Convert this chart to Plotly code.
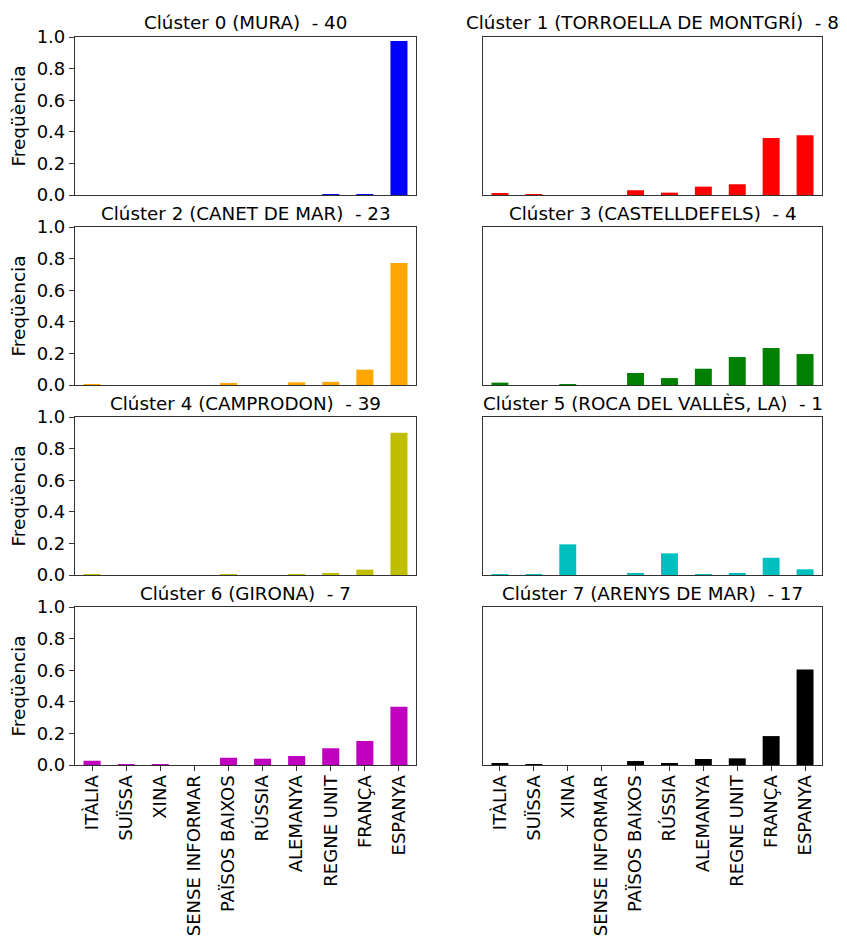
import plotly.graph_objects as go

categories = ["ITÀLIA", "SUÏSSA", "XINA", "SENSE INFORMAR", "PAÏSOS BAIXOS",
              "RÚSSIA", "ALEMANYA", "REGNE UNIT", "FRANÇA", "ESPANYA"]

titles = [
    "Clúster 0 (MURA)\u00a0\u00a0- 40",
    "Clúster 1 (TORROELLA DE MONTGRÍ)\u00a0\u00a0- 8",
    "Clúster 2 (CANET DE MAR)\u00a0\u00a0- 23",
    "Clúster 3 (CASTELLDEFELS)\u00a0\u00a0- 4",
    "Clúster 4 (CAMPRODON)\u00a0\u00a0- 39",
    "Clúster 5 (ROCA DEL VALLÈS, LA)\u00a0\u00a0- 1",
    "Clúster 6 (GIRONA)\u00a0\u00a0- 7",
    "Clúster 7 (ARENYS DE MAR)\u00a0\u00a0- 17",
]

cluster0 = [0.0, 0.0, 0.0, 0.0, 0.0, 0.0, 0.0, 0.003, 0.005, 0.975]
cluster1 = [0.010, 0.004, 0.0, 0.0, 0.030, 0.015, 0.053, 0.068, 0.360, 0.378]
cluster2 = [0.004, 0.0, 0.0, 0.0, 0.013, 0.0, 0.017, 0.020, 0.097, 0.772]
cluster3 = [0.015, 0.0, 0.004, 0.0, 0.076, 0.044, 0.103, 0.177, 0.234, 0.196]
cluster4 = [0.002, 0.0, 0.0, 0.0, 0.005, 0.0, 0.006, 0.010, 0.034, 0.900]
cluster5 = [0.002, 0.002, 0.194, 0.0, 0.010, 0.137, 0.005, 0.010, 0.109, 0.036]
cluster6 = [0.027, 0.004, 0.004, 0.0, 0.046, 0.040, 0.057, 0.106, 0.152, 0.368]
cluster7 = [0.008, 0.006, 0.0, 0.0, 0.025, 0.008, 0.038, 0.042, 0.183, 0.604]

series = [cluster0, cluster1, cluster2, cluster3, cluster4, cluster5, cluster6, cluster7]
colors = ["#0000ff", "#ff0000", "#ffa500", "#008000", "#bfbf00", "#00bfbf", "#bf00bf", "#000000"]

# page has an 8px body margin; figure fills the rest of the window
OFF = 8
W, H = 847 - OFF, 943 - OFF
xdom_px = [(75 - OFF, 416 - OFF), (483 - OFF, 822 - OFF)]
ydom_px = [(37 - OFF, 195 - OFF), (227 - OFF, 385 - OFF), (417 - OFF, 575 - OFF), (607 - OFF, 765 - OFF)]

FONT = "DejaVu Sans"
fig = go.Figure()
layout = dict(
    width=W, height=H,
    margin=dict(l=0, r=0, t=0, b=0, autoexpand=False),
    paper_bgcolor="white", plot_bgcolor="white",
    showlegend=False,
    font=dict(family=FONT, size=18, color="black"),
    bargap=0.5,
)
annotations = []
for i, vals in enumerate(series):
    row, col = divmod(i, 2)
    n = i + 1
    xa = "x" if n == 1 else f"x{n}"
    ya = "y" if n == 1 else f"y{n}"
    fig.add_trace(go.Bar(x=list(range(len(categories))), y=vals, marker_color=colors[i],
                         marker_line_width=0, width=0.5, xaxis=xa, yaxis=ya))
    x0, x1 = xdom_px[col]
    yt, yb = ydom_px[row]
    bottom = row == 3
    left = col == 0
    layout[f"xaxis{n}"] = dict(
        domain=[x0 / W, x1 / W], anchor=ya, automargin=False,
        range=[-0.5, 9.5], tickmode="array",
        tickvals=list(range(len(categories))), ticktext=categories,
        showticklabels=bottom, ticks="outside" if bottom else "",
        ticklen=5, tickcolor="#333", tickangle=-90,
        showline=True, mirror=True, linecolor="#333", linewidth=1.2,
        showgrid=False, zeroline=False, fixedrange=True,
        tickfont=dict(family=FONT, size=18),
        ticklabelstandoff=-3,
    )
    layout[f"yaxis{n}"] = dict(
        domain=[1 - yb / H, 1 - yt / H], anchor=xa, automargin=False,
        range=[0, 1.0], tickmode="array",
        tickvals=[0, 0.2, 0.4, 0.6, 0.8, 1.0],
        ticktext=["0.0", "0.2", "0.4", "0.6", "0.8", "1.0"],
        showticklabels=left, ticks="outside" if left else "",
        ticklen=5, tickcolor="#333",
        showline=True, mirror=True, linecolor="#333", linewidth=1.2,
        showgrid=False, zeroline=False, fixedrange=True,
        title=dict(text="Freqüència" if left else "", standoff=6, font=dict(size=18.5)),
        tickfont=dict(family=FONT, size=18),
    )
    annotations.append(dict(
        text=titles[i], xref="paper", yref="paper",
        x=(x0 + x1) / 2 / W, y=1 - (yt - 14) / H,
        xanchor="center", yanchor="middle", showarrow=False,
        font=dict(family=FONT, size=18.3, color="black"),
    ))
layout["annotations"] = annotations
fig.update_layout(**layout)
fig.write_html("out.html")
